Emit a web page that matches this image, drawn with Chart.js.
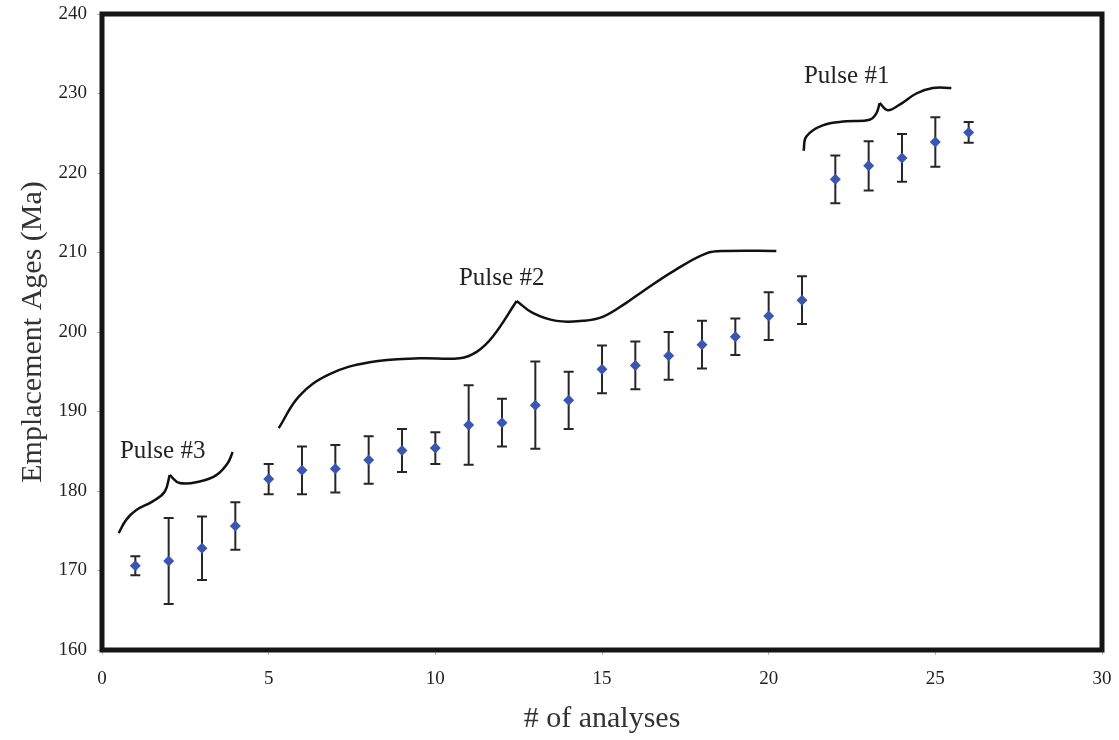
<!DOCTYPE html>
<html>
<head>
<meta charset="utf-8">
<script src="https://cdn.jsdelivr.net/npm/chart.js@4/dist/chart.umd.min.js"></script>
<style>
  body { margin: 0; background: #fff; }
  #wrap { width: 1119px; height: 740px; }
</style>
</head>
<body>
<div id="wrap"><canvas id="agesChart" width="1119" height="740"></canvas></div>
<script>
// analysis number, emplacement age (Ma) and error (+/- Ma)
const analyses = [1, 2, 3, 4, 5, 6, 7, 8, 9, 10, 11, 12, 13, 14, 15, 16, 17, 18, 19, 20, 21, 22, 23, 24, 25, 26];
const ages = [170.6, 171.2, 172.8, 175.6, 181.5, 182.6, 182.8, 183.9, 185.1, 185.4, 188.3, 188.6, 190.8, 191.4,
              195.3, 195.8, 197.0, 198.4, 199.4, 202.0, 204.0, 219.2, 220.9, 221.9, 223.9, 225.1];
const errors = [1.2, 5.4, 4.0, 3.0, 1.9, 3.0, 3.0, 3.0, 2.7, 2.0, 5.0, 3.0, 5.5, 3.6,
                3.0, 3.0, 3.0, 3.0, 2.3, 3.0, 3.0, 3.0, 3.1, 3.0, 3.1, 1.3];

const xTicks = [0, 5, 10, 15, 20, 25, 30];
const yTicks = [160, 170, 180, 190, 200, 210, 220, 230, 240];

// hand-drawn braces over each pulse, in data units (split at the cusp)
const pulse3Left = [[0.50, 174.7], [0.73, 176.4], [1.03, 177.6], [1.52, 178.7], [1.88, 179.9], [2.03, 182.0]];
const pulse3Right = [[2.03, 182.0], [2.33, 181.0], [2.93, 181.2], [3.43, 182.0], [3.77, 183.5], [3.92, 184.9]];
const pulse2Left = [[5.30, 187.9], [5.93, 192.0], [6.83, 194.7], [8.03, 196.2], [9.53, 196.7], [10.73, 196.7],
                    [11.24, 197.5], [11.72, 199.4], [12.44, 203.9]];
const pulse2Right = [[12.44, 203.9], [12.92, 202.4], [13.63, 201.4], [14.42, 201.4], [15.02, 201.9], [15.74, 203.7],
                     [16.22, 205.1], [17.12, 207.6], [18.13, 209.9], [18.73, 210.2], [20.23, 210.2]];
const pulse1Left = [[21.05, 222.8], [21.13, 224.6], [21.62, 226.0], [22.33, 226.5], [23.03, 226.7], [23.23, 227.5], [23.33, 228.8]];
const pulse1Right = [[23.33, 228.8], [23.57, 227.9], [23.93, 228.6], [24.43, 230.0], [24.92, 230.7], [25.48, 230.7]];

const pulseLabels = ['Pulse #3', 'Pulse #2', 'Pulse #1'];
const pulseLabelPos = [[1.82, 185.0], [11.99, 206.8], [22.34, 232.2]];

const serif = '"Liberation Serif", "DejaVu Serif", serif';

function toXY(list) {
  return list.map(p => ({ x: p[0], y: p[1] }));
}

function braceDataset(list) {
  return {
    type: 'line',
    data: toXY(list),
    showLine: true,
    borderColor: '#111',
    borderWidth: 2.5,
    pointRadius: 0,
    tension: 0.4,
    fill: false
  };
}

const errorBars = {
  id: 'errorBars',
  beforeDatasetsDraw(chart) {
    const { ctx, scales: { x, y } } = chart;
    ctx.save();
    ctx.strokeStyle = '#262626';
    ctx.lineWidth = 2;
    analyses.forEach((a, i) => {
      const px = x.getPixelForValue(a);
      const top = y.getPixelForValue(ages[i] + errors[i]);
      const bot = y.getPixelForValue(ages[i] - errors[i]);
      ctx.beginPath();
      ctx.moveTo(px, top); ctx.lineTo(px, bot);
      ctx.moveTo(px - 5, top); ctx.lineTo(px + 5, top);
      ctx.moveTo(px - 5, bot); ctx.lineTo(px + 5, bot);
      ctx.stroke();
    });
    ctx.restore();
  }
};

const frameAndLabels = {
  id: 'frameAndLabels',
  afterDraw(chart) {
    const { ctx, chartArea: a, scales: { x, y } } = chart;
    ctx.save();
    ctx.strokeStyle = '#151515';
    ctx.lineWidth = 5;
    ctx.strokeRect(a.left, a.top, a.right - a.left, a.bottom - a.top);
    ctx.fillStyle = '#222';
    ctx.font = '25px ' + serif;
    ctx.textAlign = 'center';
    ctx.textBaseline = 'middle';
    pulseLabels.forEach((t, i) => {
      ctx.fillText(t, x.getPixelForValue(pulseLabelPos[i][0]), y.getPixelForValue(pulseLabelPos[i][1]));
    });
    ctx.restore();
  }
};

new Chart(document.getElementById('agesChart'), {
  type: 'scatter',
  data: {
    datasets: [
      {
        data: analyses.map((a, i) => ({ x: a, y: ages[i] })),
        pointStyle: 'rectRot',
        pointRadius: 5.5,
        pointHoverRadius: 5.5,
        backgroundColor: '#3957b0',
        borderColor: '#3957b0',
        borderWidth: 0
      },
      braceDataset(pulse3Left),
      braceDataset(pulse3Right),
      braceDataset(pulse2Left),
      braceDataset(pulse2Right),
      braceDataset(pulse1Left),
      braceDataset(pulse1Right)
    ]
  },
  options: {
    responsive: false,
    animation: false,
    layout: { padding: { left: 0, right: 17, top: 14, bottom: 0 } },
    plugins: {
      legend: { display: false },
      tooltip: { enabled: false }
    },
    scales: {
      x: {
        type: 'linear',
        min: 0,
        max: 30,
        afterFit: s => { s.height = 90; s.paddingLeft = 0; s.paddingRight = 0; },
        afterBuildTicks: s => { s.ticks = xTicks.map(v => ({ value: v })); },
        border: { display: false },
        grid: { drawOnChartArea: false, color: '#bbb', tickLength: 5 },
        ticks: { color: '#222', padding: 13, font: { family: serif, size: 19 } },
        title: {
          display: true,
          text: '# of analyses',
          color: '#333',
          padding: { top: 0, bottom: 3 },
          font: { family: serif, size: 30 }
        }
      },
      y: {
        type: 'linear',
        min: 160,
        max: 240,
        afterFit: s => { s.width = 102; s.paddingTop = 0; s.paddingBottom = 0; },
        afterBuildTicks: s => { s.ticks = yTicks.map(v => ({ value: v })); },
        border: { display: false },
        grid: { drawOnChartArea: false, color: '#bbb', tickLength: 5 },
        ticks: { color: '#222', padding: 10, font: { family: serif, size: 19 } },
        title: {
          display: true,
          text: 'Emplacement Ages (Ma)',
          color: '#333',
          padding: { top: 15, bottom: 0 },
          font: { family: serif, size: 30 }
        }
      }
    }
  },
  plugins: [errorBars, frameAndLabels]
});
</script>
</body>
</html>
